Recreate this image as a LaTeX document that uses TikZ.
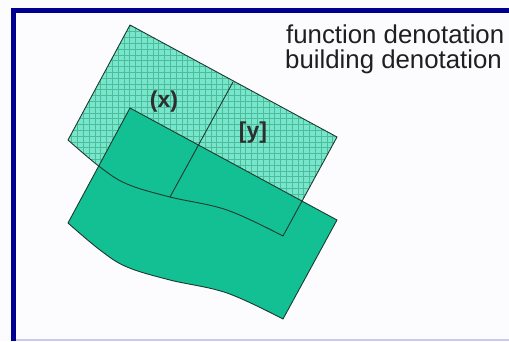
\documentclass[tikz,border=0pt]{standalone}
\usepackage{fontspec}
\setmainfont{Liberation Sans}
\usetikzlibrary{positioning}
\definecolor{framenavy}{HTML}{000090}
\definecolor{framelilac}{HTML}{C8C8F0}
\definecolor{gridfill}{HTML}{78E6CB}
\definecolor{gridline}{HTML}{4CBC9C}
\definecolor{bldfill}{HTML}{12C093}
\definecolor{edgedark}{HTML}{1E3A2E}
\definecolor{labelgray}{HTML}{2E2E2E}
\newcommand\areapath{(130,25) -- (337,137) -- (283,236) -- plot[smooth,tension=0.6] coordinates {(283,236) (227,210) (170,197) (127,184) (100,167) (68,140)} -- cycle}
\tikzset{
  edge/.style={draw=edgedark,line width=0.9pt,line join=round},
  tag/.style={font=\bfseries\fontsize{23}{23}\selectfont,text=labelgray,inner sep=0pt},
  legend/.style={font=\fontsize{25.8}{25.8}\selectfont,text=black!88,inner sep=0pt,anchor=base west}
}

\begin{document}
\begin{tikzpicture}[x=1pt,y=-1pt]
  \fill[white!99!blue] (0,0) rectangle (509,341);
  \useasboundingbox (0,0) rectangle (509,341);
  \fill[gridfill] \areapath;
  \begin{scope}
    \clip \areapath;
    \foreach \g in {0,5.8,...,290}{\draw[gridline,line width=0.5pt] (60+\g,20)--(60+\g,245); \draw[gridline,line width=0.5pt] (60,20+\g)--(350,20+\g);}
  \end{scope}
  \begin{scope}[shift={(0,83)}]
    \fill[bldfill] \areapath;
    \draw[edge] \areapath;
  \end{scope}
  \draw[edge] \areapath;
  \coordinate (divtop) at (233,82);
  \coordinate (divbot) at (170,197);
  \draw[edge] (divtop) -- (divbot);
  \node[tag] (xtag) at (164,102) {(x)};
  \node[tag] (ytag) at (253,133) {[y]};
  \node[legend] (funcnote) at (286,43) {function denotation};
  \node[legend] (bldnote) at (285,68) {building denotation};
  \draw[framenavy,line width=5pt,line join=miter] (13.5,341) -- (13.5,10.5) -- (509,10.5);
  \draw[framelilac,line width=2pt] (16,339.5) -- (509,339.5);
\end{tikzpicture}
\end{document}
